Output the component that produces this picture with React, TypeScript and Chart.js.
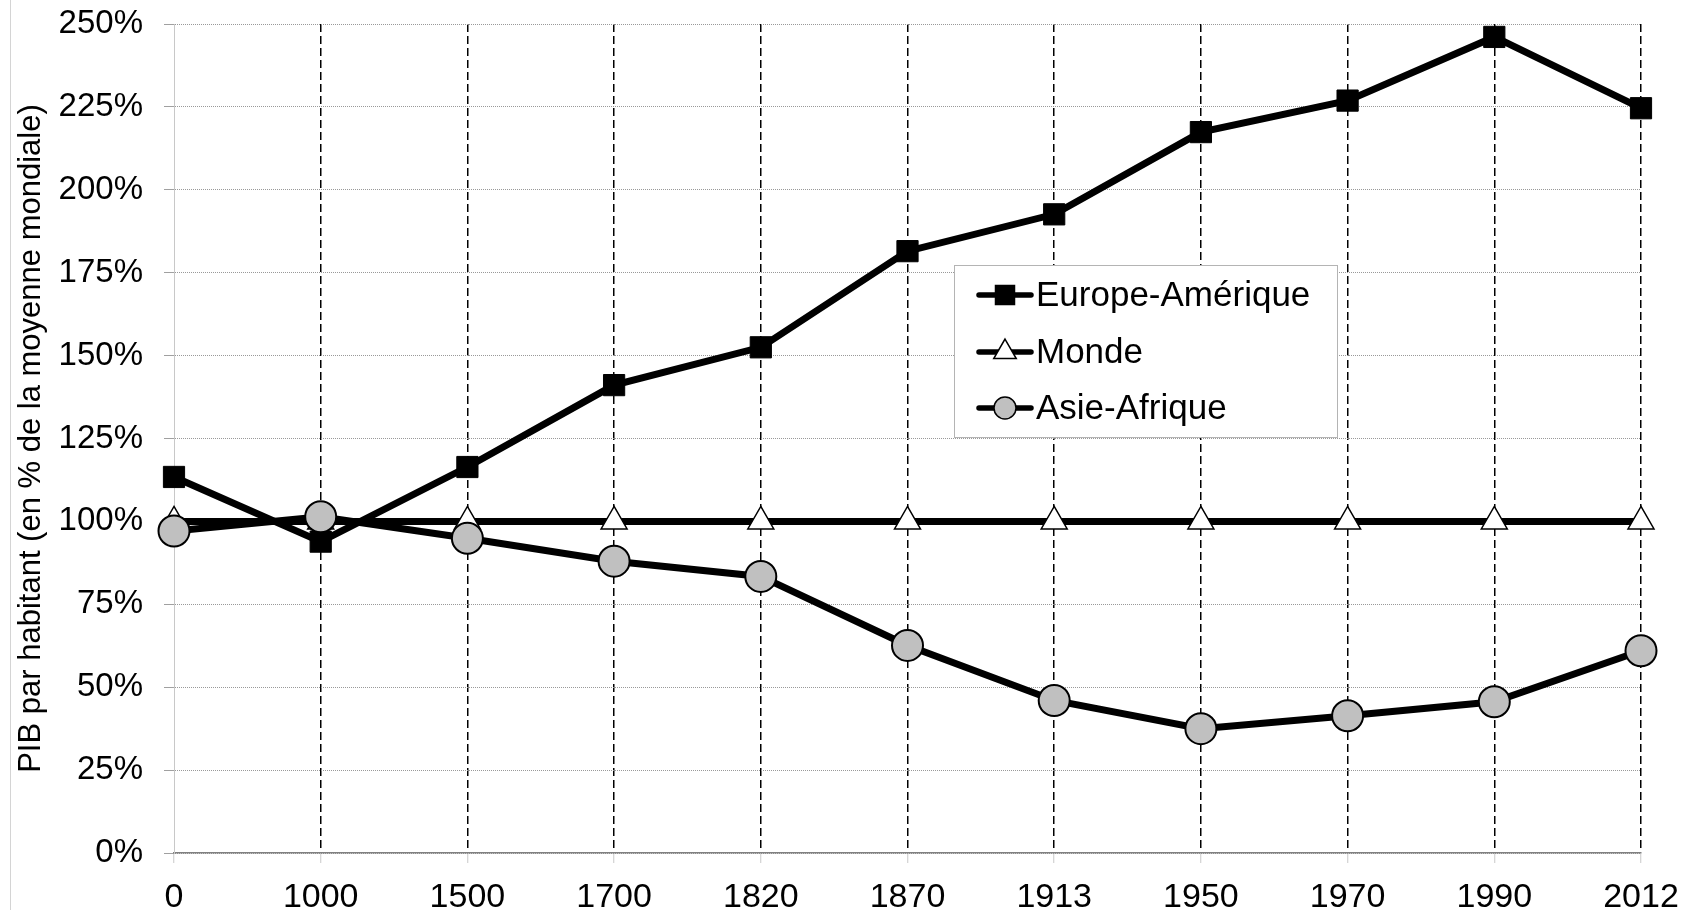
import React, { useEffect, useRef } from 'react';
import { Chart, registerables } from 'chart.js';

Chart.register(...registerables);

const YEARS = ['0', '1000', '1500', '1700', '1820', '1870', '1913', '1950', '1970', '1990', '2012'];
const EUROPE_AMERIQUE = [113.4, 93.9, 116.4, 141.1, 152.5, 181.5, 192.6, 217.4, 226.9, 246.1, 224.6];
const MONDE = [100, 100, 100, 100, 100, 100, 100, 100, 100, 100, 100];
const ASIE_AFRIQUE = [97.1, 101.4, 94.9, 88.0, 83.4, 62.6, 46.0, 37.5, 41.4, 45.6, 61.0];
const SERIES_NAMES = ['Europe-Amérique', 'Monde', 'Asie-Afrique'];
const Y_TITLE = 'PIB par habitant (en % de la moyenne mondiale)';
const Y_MIN = 0;
const Y_MAX = 250;
const Y_STEP = 25;

const FONT = '"Liberation Sans", Arial, Helvetica, sans-serif';

const framePlugin = {
  id: 'frame',
  beforeDraw(chart: any) {
    const ctx = chart.ctx;
    ctx.save();
    ctx.fillStyle = '#ffffff';
    ctx.fillRect(0, 0, chart.width, chart.height);
    ctx.strokeStyle = '#d4d4d4';
    ctx.lineWidth = 1;
    ctx.beginPath();
    ctx.moveTo(10.5, 0);
    ctx.lineTo(10.5, chart.height);
    ctx.stroke();
    ctx.restore();
  },
};

const legendPlugin = {
  id: 'boxLegend',
  afterDatasetsDraw(chart: any) {
    const ctx = chart.ctx;
    ctx.save();
    const bx = 954.5, by = 265.5, bw = 383, bh = 172;
    ctx.fillStyle = '#ffffff';
    ctx.fillRect(bx, by, bw, bh);
    ctx.strokeStyle = '#b4b4b4';
    ctx.lineWidth = 1;
    ctx.strokeRect(bx, by, bw, bh);
    const rowY = [295, 352, 408];
    chart.data.datasets.forEach((ds: any, i: number) => {
      const y = rowY[i];
      const cx = 1005;
      ctx.strokeStyle = '#000';
      ctx.lineWidth = 5.5;
      ctx.lineCap = 'round';
      ctx.beginPath();
      ctx.moveTo(979, y);
      ctx.lineTo(1031, y);
      ctx.stroke();
      ctx.lineCap = 'butt';
      ctx.fillStyle = ds.pointBackgroundColor;
      ctx.strokeStyle = ds.pointBorderColor;
      ctx.lineWidth = 1.5;
      ctx.beginPath();
      if (ds.pointStyle === 'rect') {
        ctx.rect(cx - 9.5, y - 9.5, 19, 19);
      } else if (ds.pointStyle === 'triangle') {
        const r = 13;
        ctx.moveTo(cx, y - r);
        ctx.lineTo(cx + r * 0.866, y + r * 0.5);
        ctx.lineTo(cx - r * 0.866, y + r * 0.5);
        ctx.closePath();
      } else {
        ctx.arc(cx, y, 11, 0, Math.PI * 2);
      }
      ctx.fill();
      ctx.stroke();
      ctx.fillStyle = '#000';
      ctx.font = `35px ${FONT}`;
      ctx.textAlign = 'left';
      ctx.textBaseline = 'middle';
      ctx.fillText(ds.label, 1036, y + 1);
    });
    ctx.restore();
  },
};

export default function App() {
  const ref = useRef<HTMLCanvasElement | null>(null);

  useEffect(() => {
    if (!ref.current) return;
    const chart = new Chart(ref.current, {
      type: 'line',
      data: {
        labels: YEARS,
        datasets: [
          {
            label: SERIES_NAMES[0],
            data: EUROPE_AMERIQUE,
            borderColor: '#000',
            borderWidth: 7,
            pointStyle: 'rect',
            pointRadius: 15,
            pointBackgroundColor: '#000',
            pointBorderColor: '#000',
            pointBorderWidth: 1,
            order: 2,
            clip: false,
          } as any,
          {
            label: SERIES_NAMES[1],
            data: MONDE,
            borderColor: '#000',
            borderWidth: 7,
            pointStyle: 'triangle',
            pointRadius: 15,
            pointBackgroundColor: '#fff',
            pointBorderColor: '#000',
            pointBorderWidth: 1.5,
            order: 1,
            clip: false,
          } as any,
          {
            label: SERIES_NAMES[2],
            data: ASIE_AFRIQUE,
            borderColor: '#000',
            borderWidth: 7,
            pointStyle: 'circle',
            pointRadius: 15.5,
            pointBackgroundColor: '#c0c0c0',
            pointBorderColor: '#000',
            pointBorderWidth: 2,
            order: 0,
            clip: false,
          } as any,
        ],
      },
      options: {
        responsive: false,
        animation: false,
        devicePixelRatio: 1,
        layout: { padding: { left: 0, right: 50, top: 24, bottom: 0 } },
        plugins: {
          legend: { display: false },
          tooltip: { enabled: false },
          title: { display: false },
        },
        elements: { line: { tension: 0 } },
        scales: {
          x: {
            type: 'category',
            offset: false,
            grid: {
              color: (c: any) => (c.index === 0 ? 'rgba(0,0,0,0)' : '#000'),
              lineWidth: 1.5,
              drawTicks: true,
              tickLength: 10,
              tickColor: '#c8c8c8',
              tickWidth: 1,
              tickBorderDash: [],
            } as any,
            border: { display: true, color: '#808080', width: 1.5, dash: [8, 4] } as any,
            ticks: {
              color: '#000',
              font: { family: FONT, size: 34 },
              padding: 14,
              maxRotation: 0,
              autoSkip: false,
            },
            afterFit: (s: any) => {
              s.height = 57;
              s.paddingLeft = 0;
              s.paddingRight = 0;
            },
          },
          y: {
            min: Y_MIN,
            max: Y_MAX,
            grid: {
              color: '#999999',
              lineWidth: 1,
              drawTicks: true,
              tickLength: 10,
              tickColor: '#a0a0a0',
              tickBorderDash: [],
            } as any,
            border: { display: true, color: '#c8c8c8', width: 1, dash: [1, 1] } as any,
            ticks: {
              stepSize: Y_STEP,
              color: '#000',
              font: { family: FONT, size: 33 },
              padding: 21,
              callback: (v: any) => `${v}%`,
            },
            title: {
              display: true,
              text: Y_TITLE,
              color: '#000',
              font: { family: FONT, size: 31 },
              padding: { top: 13, bottom: 0 },
            },
            afterFit: (s: any) => {
              s.width = 174;
              s.paddingTop = 0;
              s.paddingBottom = 0;
            },
          },
        },
      },
      plugins: [framePlugin, legendPlugin],
    } as any);
    return () => chart.destroy();
  }, []);

  return (
    <div style={{ position: 'absolute', left: 0, top: 0, width: 1691, height: 910 }}>
      <canvas ref={ref} width={1691} height={910} style={{ display: 'block' }} />
    </div>
  );
}
